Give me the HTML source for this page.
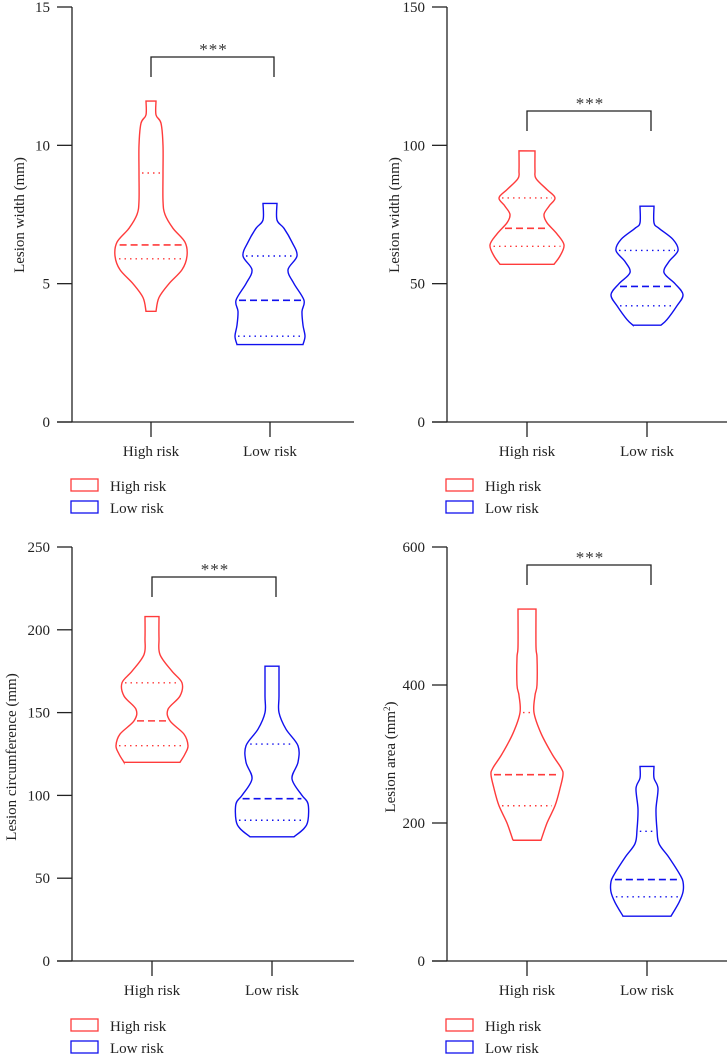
<!DOCTYPE html>
<html><head><meta charset="utf-8"><style>
html,body{margin:0;padding:0;background:#fff;}
svg{display:block;font-family:"Liberation Serif",serif;}
</style></head><body>
<svg id="c" width="727" height="1057" viewBox="0 0 727 1057"></svg>
<script>
// ---- data ----
const categories = ["High risk","Low risk"];
// panel A: lesion width
const aTicks = [0,5,10,15];
const aHighVals = [4.0,4.5,5.0,5.5,6.0,6.5,7.0,7.5,8.0,9.0,10.0,10.8,11.1,11.6];
const aHighDens = [5,8,18,31,36,34,22,14,12,12,12,10,5,5];
const aHighQ = [5.9,6.4,9.0];
const aLowVals = [2.8,3.1,3.5,4.0,4.4,5.0,5.5,6.0,6.5,7.0,7.3,7.9];
const aLowDens = [33,35,33,32,34,24,18,27,22,14,7,7];
const aLowQ = [3.1,4.4,6.0];
// panel B: lesion width (second)
const bTicks = [0,50,100,150];
const bHighVals = [57,60,64,68,72,75,78,81,84,88,91,98];
const bHighDens = [27,33,37,30,20,17,22,28,20,9,8,8];
const bHighQ = [63.5,70,81];
const bLowVals = [35,37,42,46,50,54,58,62,66,70,72,78];
const bLowDens = [14,20,30,36,28,17,22,31,26,12,7,7];
const bLowQ = [42,49,62];
// panel C: circumference
const cTicks = [0,50,100,150,200,250];
const cHighVals = [120,125,130,137,145,152,160,168,175,185,195,208];
const cHighDens = [28,33,36,32,18,16,28,30,20,8,7,7];
const cHighQ = [130,145,168];
const cLowVals = [75,80,85,95,100,110,120,130,140,150,160,178];
const cLowDens = [22,32,36,36,30,20,26,26,14,7,7,7];
const cLowQ = [85,98,131];
// panel D: area
const dTicks = [0,200,400,600];
const dHighVals = [175,200,225,250,270,280,300,330,360,385,400,440,455,510];
const dHighDens = [14,20,28,33,36,34,25,14,7,8,10,10,9,9];
const dHighQ = [225,270,360];
const dLowVals = [65,85,100,115,125,150,170,190,220,250,265,282];
const dLowDens = [24,32,36,36,33,22,12,10,9,11,7,7];
const dLowQ = [93,118,188];

const NS="http://www.w3.org/2000/svg";
const svg=document.getElementById('c');
function mk(tag,attrs,parent){const e=document.createElementNS(NS,tag);for(const k in attrs)e.setAttribute(k,attrs[k]);(parent||svg).appendChild(e);return e;}

function smoothSide(pts){
  let d="";
  for(let i=0;i<pts.length-1;i++){
    const p0=pts[Math.max(0,i-1)],p1=pts[i],p2=pts[i+1],p3=pts[Math.min(pts.length-1,i+2)];
    const c1=[p1[0]+(p2[0]-p0[0])/6,p1[1]+(p2[1]-p0[1])/6];
    const c2=[p2[0]-(p3[0]-p1[0])/6,p2[1]-(p3[1]-p1[1])/6];
    d+=` C${c1[0].toFixed(1)},${c1[1].toFixed(1)} ${c2[0].toFixed(1)},${c2[1].toFixed(1)} ${p2[0].toFixed(1)},${p2[1].toFixed(1)}`;
  }
  return d;
}

function panel(o){
  const g=mk('g',{});
  
  
  const ymax=o.ticks[o.ticks.length-1];
  const y=v=>o.y0+(o.yTop-o.y0)*v/ymax;
  const ya=mk('line',{x1:o.ax,y1:y(ymax),x2:o.ax,y2:o.y0,stroke:'#222','stroke-width':1.3},g);
  
  o.ticks.forEach(t=>{
    const tl=mk('line',{x1:o.ax-15,y1:y(t),x2:o.ax,y2:y(t),stroke:'#222','stroke-width':1.3},g);
    
    const tx=mk('text',{x:o.ax-22,y:y(t)+5,'text-anchor':'end','font-size':15,fill:'#222'},g);
    tx.textContent=t;
    
  });
  const xa=mk('line',{x1:o.ax-15,y1:o.y0,x2:o.ax+o.xlen,y2:o.y0,stroke:'#222','stroke-width':1.3},g);
  
  const yl=mk('text',{x:0,y:0,'text-anchor':'middle','font-size':15,fill:'#222',transform:`translate(${o.labX},${o.labY}) rotate(-90)`},g);
  yl.innerHTML=o.label;
  
  const series=[
    {cx:o.cx[0],vals:o.hv,dens:o.hd,q:o.hq,col:'#ff3b3b'},
    {cx:o.cx[1],vals:o.lv,dens:o.ld,q:o.lq,col:'#1010ee'}];
  series.forEach((s,i)=>{
    const tk=mk('line',{x1:s.cx,y1:o.y0,x2:s.cx,y2:o.y0+15,stroke:'#222','stroke-width':1.3},g);
    
    const lb=mk('text',{x:s.cx,y:o.y0+34,'text-anchor':'middle','font-size':15,fill:'#222'},g);
    lb.textContent=categories[i];
    
    const right=s.vals.map((v,k)=>[s.cx+s.dens[k],y(v)]);
    const left=s.vals.map((v,k)=>[s.cx-s.dens[k],y(v)]).reverse();
    let d=`M${left[left.length-1][0]},${left[left.length-1][1]} L${right[0][0]},${right[0][1]}`+smoothSide(right)+` L${left[0][0]},${left[0][1]}`+smoothSide(left)+' Z';
    const p=mk('path',{d:d,fill:'none',stroke:s.col,'stroke-width':1.4},g);
    
    
    s.q.forEach((qv,k)=>{
      let w=s.dens[0];
      for(let j=0;j<s.vals.length-1;j++){if(qv>=s.vals[j]&&qv<=s.vals[j+1]){const f=(qv-s.vals[j])/(s.vals[j+1]-s.vals[j]);w=s.dens[j]+f*(s.dens[j+1]-s.dens[j]);}}
      w-=3;
      const ql=mk('line',{x1:s.cx-w,y1:y(qv),x2:s.cx+w,y2:y(qv),stroke:s.col,'stroke-width':k===1?1.6:1.4,'stroke-dasharray':k===1?'7,4':'1.5,4'},g);
      
      
    });
  });
  const br=mk('path',{d:`M${o.cx[0]},${o.brY+20} V${o.brY} H${o.cx[1]+4} V${o.brY+20}`,fill:'none',stroke:'#222','stroke-width':1.3},g);
  
  const st=mk('text',{x:(o.cx[0]+o.cx[1])/2+3,y:o.brY-2,'text-anchor':'middle','font-size':17,fill:'#333','letter-spacing':'1'},g);
  st.textContent='***';
  
  if(o.legY){
    [['High risk','#ff3b3b'],['Low risk','#1010ee']].forEach((e,i)=>{
      const ly=o.legY+i*22;
      const r=mk('rect',{x:o.ax-1,y:ly,width:27,height:12,fill:'none',stroke:e[1],'stroke-width':1.3},g);
      
      const t=mk('text',{x:o.ax+38,y:ly+12,'font-size':15,fill:'#222'},g);
      t.textContent=e[0];
      
    });
  }
}

panel({name:'panel-lesion-width-a',ax:72,y0:422,yTop:7,xlen:282,ticks:aTicks,cx:[151,270],
  hv:aHighVals,hd:aHighDens,hq:aHighQ,lv:aLowVals,ld:aLowDens,lq:aLowQ,
  label:'Lesion width (mm)',labX:24,labY:215,brY:57,legY:479});
panel({name:'panel-lesion-width-b',ax:447,y0:422,yTop:7,xlen:280,ticks:bTicks,cx:[527,647],
  hv:bHighVals,hd:bHighDens,hq:bHighQ,lv:bLowVals,ld:bLowDens,lq:bLowQ,
  label:'Lesion width (mm)',labX:399,labY:215,brY:111,legY:479});
panel({name:'panel-lesion-circumference',ax:72,y0:961,yTop:547,xlen:282,ticks:cTicks,cx:[152,272],
  hv:cHighVals,hd:cHighDens,hq:cHighQ,lv:cLowVals,ld:cLowDens,lq:cLowQ,
  label:'Lesion circumference (mm)',labX:16,labY:757,brY:577,legY:1019});
panel({name:'panel-lesion-area',ax:447,y0:961,yTop:547,xlen:280,ticks:dTicks,cx:[527,647],
  hv:dHighVals,hd:dHighDens,hq:dHighQ,lv:dLowVals,ld:dLowDens,lq:dLowQ,
  label:'Lesion area (mm<tspan font-size="9" dy="-5">2</tspan><tspan dy="5">)</tspan>',labX:395,labY:757,brY:565,legY:1019});
</script>
</body></html>
